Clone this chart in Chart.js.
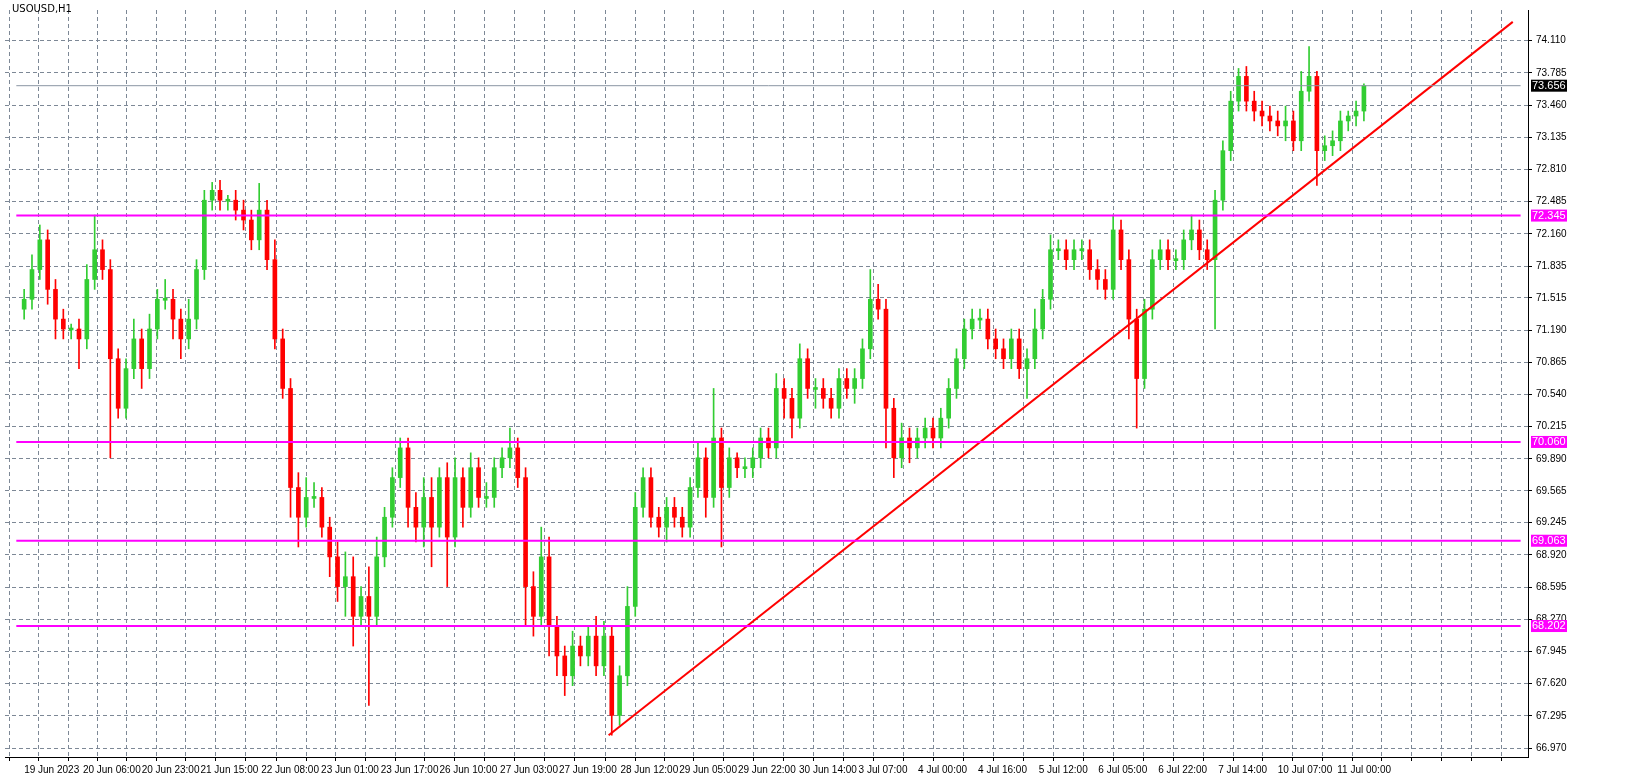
<!DOCTYPE html>
<html>
<head>
<meta charset="utf-8">
<script src="https://cdn.jsdelivr.net/npm/chart.js@4.4.0/dist/chart.umd.min.js"></script>
<style>
  html, body { margin: 0; padding: 0; background: #fff; }
  #wrap { width: 1646px; height: 781px; position: relative; }
  #title { position: absolute; left: 12px; top: 3px; font: 10px "DejaVu Sans", sans-serif; color: #000; }
</style>
</head>
<body>
<div id="wrap"><canvas id="priceChart"></canvas><div id="title">USOUSD,H1</div></div>
<script>
const firstOpen = 71.4;
const closes = [
71.5,71.8,72.1,71.6,71.3,71.2,71.2,71.1,71.7,72.0,
71.8,70.9,70.4,70.8,71.1,70.8,71.2,71.5,71.5,71.3,
71.1,71.3,71.8,72.5,72.6,72.5,72.5,72.4,72.3,72.1,
72.4,71.9,71.1,70.6,69.6,69.3,69.5,69.5,69.2,68.9,
68.6,68.7,68.3,68.5,68.3,68.9,69.3,69.7,70.0,69.4,
69.2,69.5,69.2,69.7,69.1,69.7,69.4,69.8,69.5,69.5,
69.8,69.9,70.0,69.7,68.6,68.3,68.9,68.2,67.9,67.7,
68.0,67.9,68.1,67.8,68.1,67.3,67.7,68.4,69.4,69.7,
69.3,69.2,69.4,69.3,69.2,69.6,69.9,69.5,70.1,69.6,
69.9,69.8,69.8,69.9,70.1,70.0,70.6,70.5,70.3,70.9,
70.6,70.6,70.5,70.4,70.7,70.6,70.7,71.0,71.5,71.4,
70.4,69.9,70.1,70.0,70.1,70.2,70.1,70.3,70.6,70.9,
71.2,71.3,71.3,71.1,71.0,70.9,71.1,70.8,70.9,71.2,
71.5,72.0,72.0,71.9,72.0,72.0,71.8,71.7,71.6,72.2,
71.9,71.3,70.7,71.4,71.9,72.0,71.9,71.9,72.1,72.2,
72.0,71.9,72.5,73.0,73.5,73.75,73.5,73.4,73.35,73.3,
73.25,73.3,73.1,73.6,73.75,73.0,73.05,73.1,73.3,73.35,
73.4,73.656];
const upWick = [
.1,.15,.15,.1,.1,.1,.05,.1,.15,.35,
.1,.1,.1,.1,.2,.1,.15,.1,.2,.1,
.1,.2,.1,.1,.08,.1,.05,.1,.1,.1,
.27,.1,.2,.1,.1,.15,.2,.15,.1,.1,
.15,.25,.2,.1,.3,.2,.1,.1,.1,.1,
.15,.2,.2,.1,.15,.2,.1,.15,.1,.15,
.1,.1,.2,.1,.1,.15,.3,.2,.1,.1,
.15,.1,.1,.2,.15,.1,.1,.2,.15,.1,
.1,.1,.1,.1,.1,.1,.15,.1,.5,.1,
.1,.05,.1,.1,.1,.1,.15,.1,.1,.15,
.1,.1,.1,.1,.1,.1,.1,.1,.3,.15,
.1,.1,.15,.1,.1,.1,.1,.1,.1,.1,
.1,.1,.1,.1,.1,.1,.1,.1,.1,.2,
.1,.15,.1,.1,.1,.1,.1,.1,.1,.15,
.1,.1,.1,.1,.1,.1,.1,.1,.1,.15,
.1,.1,.1,.1,.1,.08,.1,.1,.1,.1,
.1,.15,.1,.2,.3,.05,.1,.1,.1,.05,
.1,.02];
const dnWick = [
.1,.1,.1,.15,.2,.1,.1,.3,.1,.1,
.1,1.0,.1,.1,.1,.2,.1,.1,.1,.2,
.2,.1,.1,.1,.1,.1,.1,.1,.1,.1,
.1,.1,.1,.1,.3,.3,.1,.1,.1,.2,
.15,.3,.3,.1,.9,.1,.1,.1,.1,.2,
.15,.2,.4,.1,.5,.1,.2,.1,.1,.1,
.1,.1,.1,.1,.4,.2,.1,.3,.2,.2,
.1,.1,.1,.1,.1,.2,.1,.1,.1,.1,
.1,.1,.15,.1,.1,.1,.1,.2,.1,.6,
.1,.1,.1,.1,.1,.1,.1,.2,.2,.1,
.1,.2,.1,.1,.1,.1,.15,.1,.1,.1,
.4,.2,.1,.15,.1,.1,.1,.1,.1,.1,
.1,.1,.1,.1,.1,.1,.1,.1,.3,.1,
.1,.1,.1,.1,.1,.1,.1,.1,.1,.1,
.1,.2,.5,.1,.1,.1,.1,.1,.1,.1,
.1,.1,.7,.1,.1,.1,.1,.1,.1,.1,
.1,.15,.1,.1,.1,.35,.1,.1,.1,.1,
.1,.1];
const levels = [72.345, 70.060, 69.063, 68.202];
const lastPrice = 73.656;
const trendStart = { x: 74.6, y: 67.1 };
const trendEnd = { x: 190, y: 74.3 };
const yTicks = [74.110,73.785,73.460,73.135,72.810,72.485,72.160,71.835,71.515,71.190,70.865,70.540,70.215,69.890,69.565,69.245,68.920,68.595,68.270,67.945,67.620,67.295,66.970];
const xTickPos = [0,7.5,15,22.5,30.25,37.9,45.5,53,60.75,68.25,76.1,83.6,91.1,98.9,106.5,114.1,121.75,129.5,137.1,144.75,152.4,160,167.6];
const xTickLabels = ['19 Jun 2023','20 Jun 06:00','20 Jun 23:00','21 Jun 15:00','22 Jun 08:00','23 Jun 01:00','23 Jun 17:00','26 Jun 10:00','27 Jun 03:00','27 Jun 19:00','28 Jun 12:00','29 Jun 05:00','29 Jun 22:00','30 Jun 14:00','3 Jul 07:00','4 Jul 00:00','4 Jul 16:00','5 Jul 12:00','6 Jul 05:00','6 Jul 22:00','7 Jul 14:00','10 Jul 07:00','11 Jul 00:00'];

const bodies = [], wicks = [], colors = [];
let prev = firstOpen;
closes.forEach((c, i) => {
    const o = prev;
    let lo = Math.min(o, c), hi = Math.max(o, c);
    if (hi - lo < 0.02) { hi += 0.01; lo -= 0.01; }
    bodies.push({ x: i, y: [lo, hi] });
    wicks.push({ x: i, y: [Math.min(o, c) - dnWick[i], Math.max(o, c) + upWick[i]] });
    colors.push(c >= o ? '#32CD32' : '#FF0000');
    prev = c;
});

const gridTicks = [];
xTickPos.forEach((p, i) => {
    gridTicks.push({ value: p, label: xTickLabels[i] });
    const next = i < xTickPos.length - 1 ? xTickPos[i + 1] : p + 7.6;
    gridTicks.push({ value: (p + next) / 2, label: '' });
});
gridTicks.push({ value: 175.2, label: '' }, { value: 179, label: '' }, { value: 182.8, label: '' }, { value: 186.6, label: '' });

const tagPlugin = {
    id: 'tags',
    afterDraw(chart) {
        const { ctx, scales: { y }, chartArea } = chart;
        ctx.save();
        ctx.font = '11px "Liberation Sans", sans-serif';
        ctx.textBaseline = 'middle';
        const tag = (v, bg, txt) => {
            const py = y.getPixelForValue(v);
            ctx.fillStyle = bg;
            ctx.fillRect(chartArea.right + 3, py - 6, 36, 12);
            ctx.fillStyle = txt;
            ctx.fillText(v.toFixed(3), chartArea.right + 4, py);
        };
        levels.forEach(v => tag(v, '#FF00FF', '#FFFFFF'));
        tag(lastPrice, '#000000', '#FFFFFF');
        ctx.restore();
    }
};

const hLine = (v, color, w) => ({
    type: 'line', data: [{ x: -1, y: v }, { x: 191, y: v }], borderColor: color,
    borderWidth: w, pointRadius: 0, order: 0
});

new Chart(document.getElementById('priceChart'), {
    type: 'bar',
    data: {
        datasets: [
            { data: wicks, backgroundColor: colors, barThickness: 1, grouped: false, order: 2 },
            { data: bodies, backgroundColor: colors, barThickness: 4, grouped: false, order: 1 },
            hLine(lastPrice, '#8a96a3', 1),
            ...levels.map(v => hLine(v, '#FF00FF', 2)),
            { type: 'line', data: [trendStart, trendEnd], borderColor: '#FF0000', borderWidth: 2, pointRadius: 0, order: 0 }
        ]
    },
    options: {
        responsive: true,
        maintainAspectRatio: false,
        animation: false,
        layout: { padding: { left: 5, top: -7, right: 0, bottom: 0 } },
        plugins: { legend: { display: false }, tooltip: { enabled: false } },
        scales: {
            x: {
                type: 'linear', min: -0.5, max: 190,
                afterBuildTicks: s => { s.ticks = gridTicks.map(t => ({ value: t.value })); },
                afterFit: s => { s.height = 24; },
                ticks: {
                    autoSkip: false, maxRotation: 0, align: 'start', color: '#000',
                    font: { family: 'Liberation Sans', size: 10 },
                    callback: (v, i) => gridTicks[i].label
                },
                grid: { color: '#7d8896', tickColor: '#000', tickLength: 4 },
                border: { display: true, color: '#000', dash: [4, 3] }
            },
            y: {
                position: 'right', min: 66.88, max: 74.42,
                afterBuildTicks: s => { s.ticks = yTicks.map(v => ({ value: v })); },
                afterFit: s => { s.width = 118; },
                ticks: { color: '#000', font: { family: 'Liberation Sans', size: 10 }, callback: v => v.toFixed(3), padding: 4 },
                grid: { color: '#7d8896', tickColor: '#000', tickLength: 4 },
                border: { display: true, color: '#000', dash: [4, 3] }
            }
        }
    },
    plugins: [tagPlugin]
});
</script>
</body>
</html>
